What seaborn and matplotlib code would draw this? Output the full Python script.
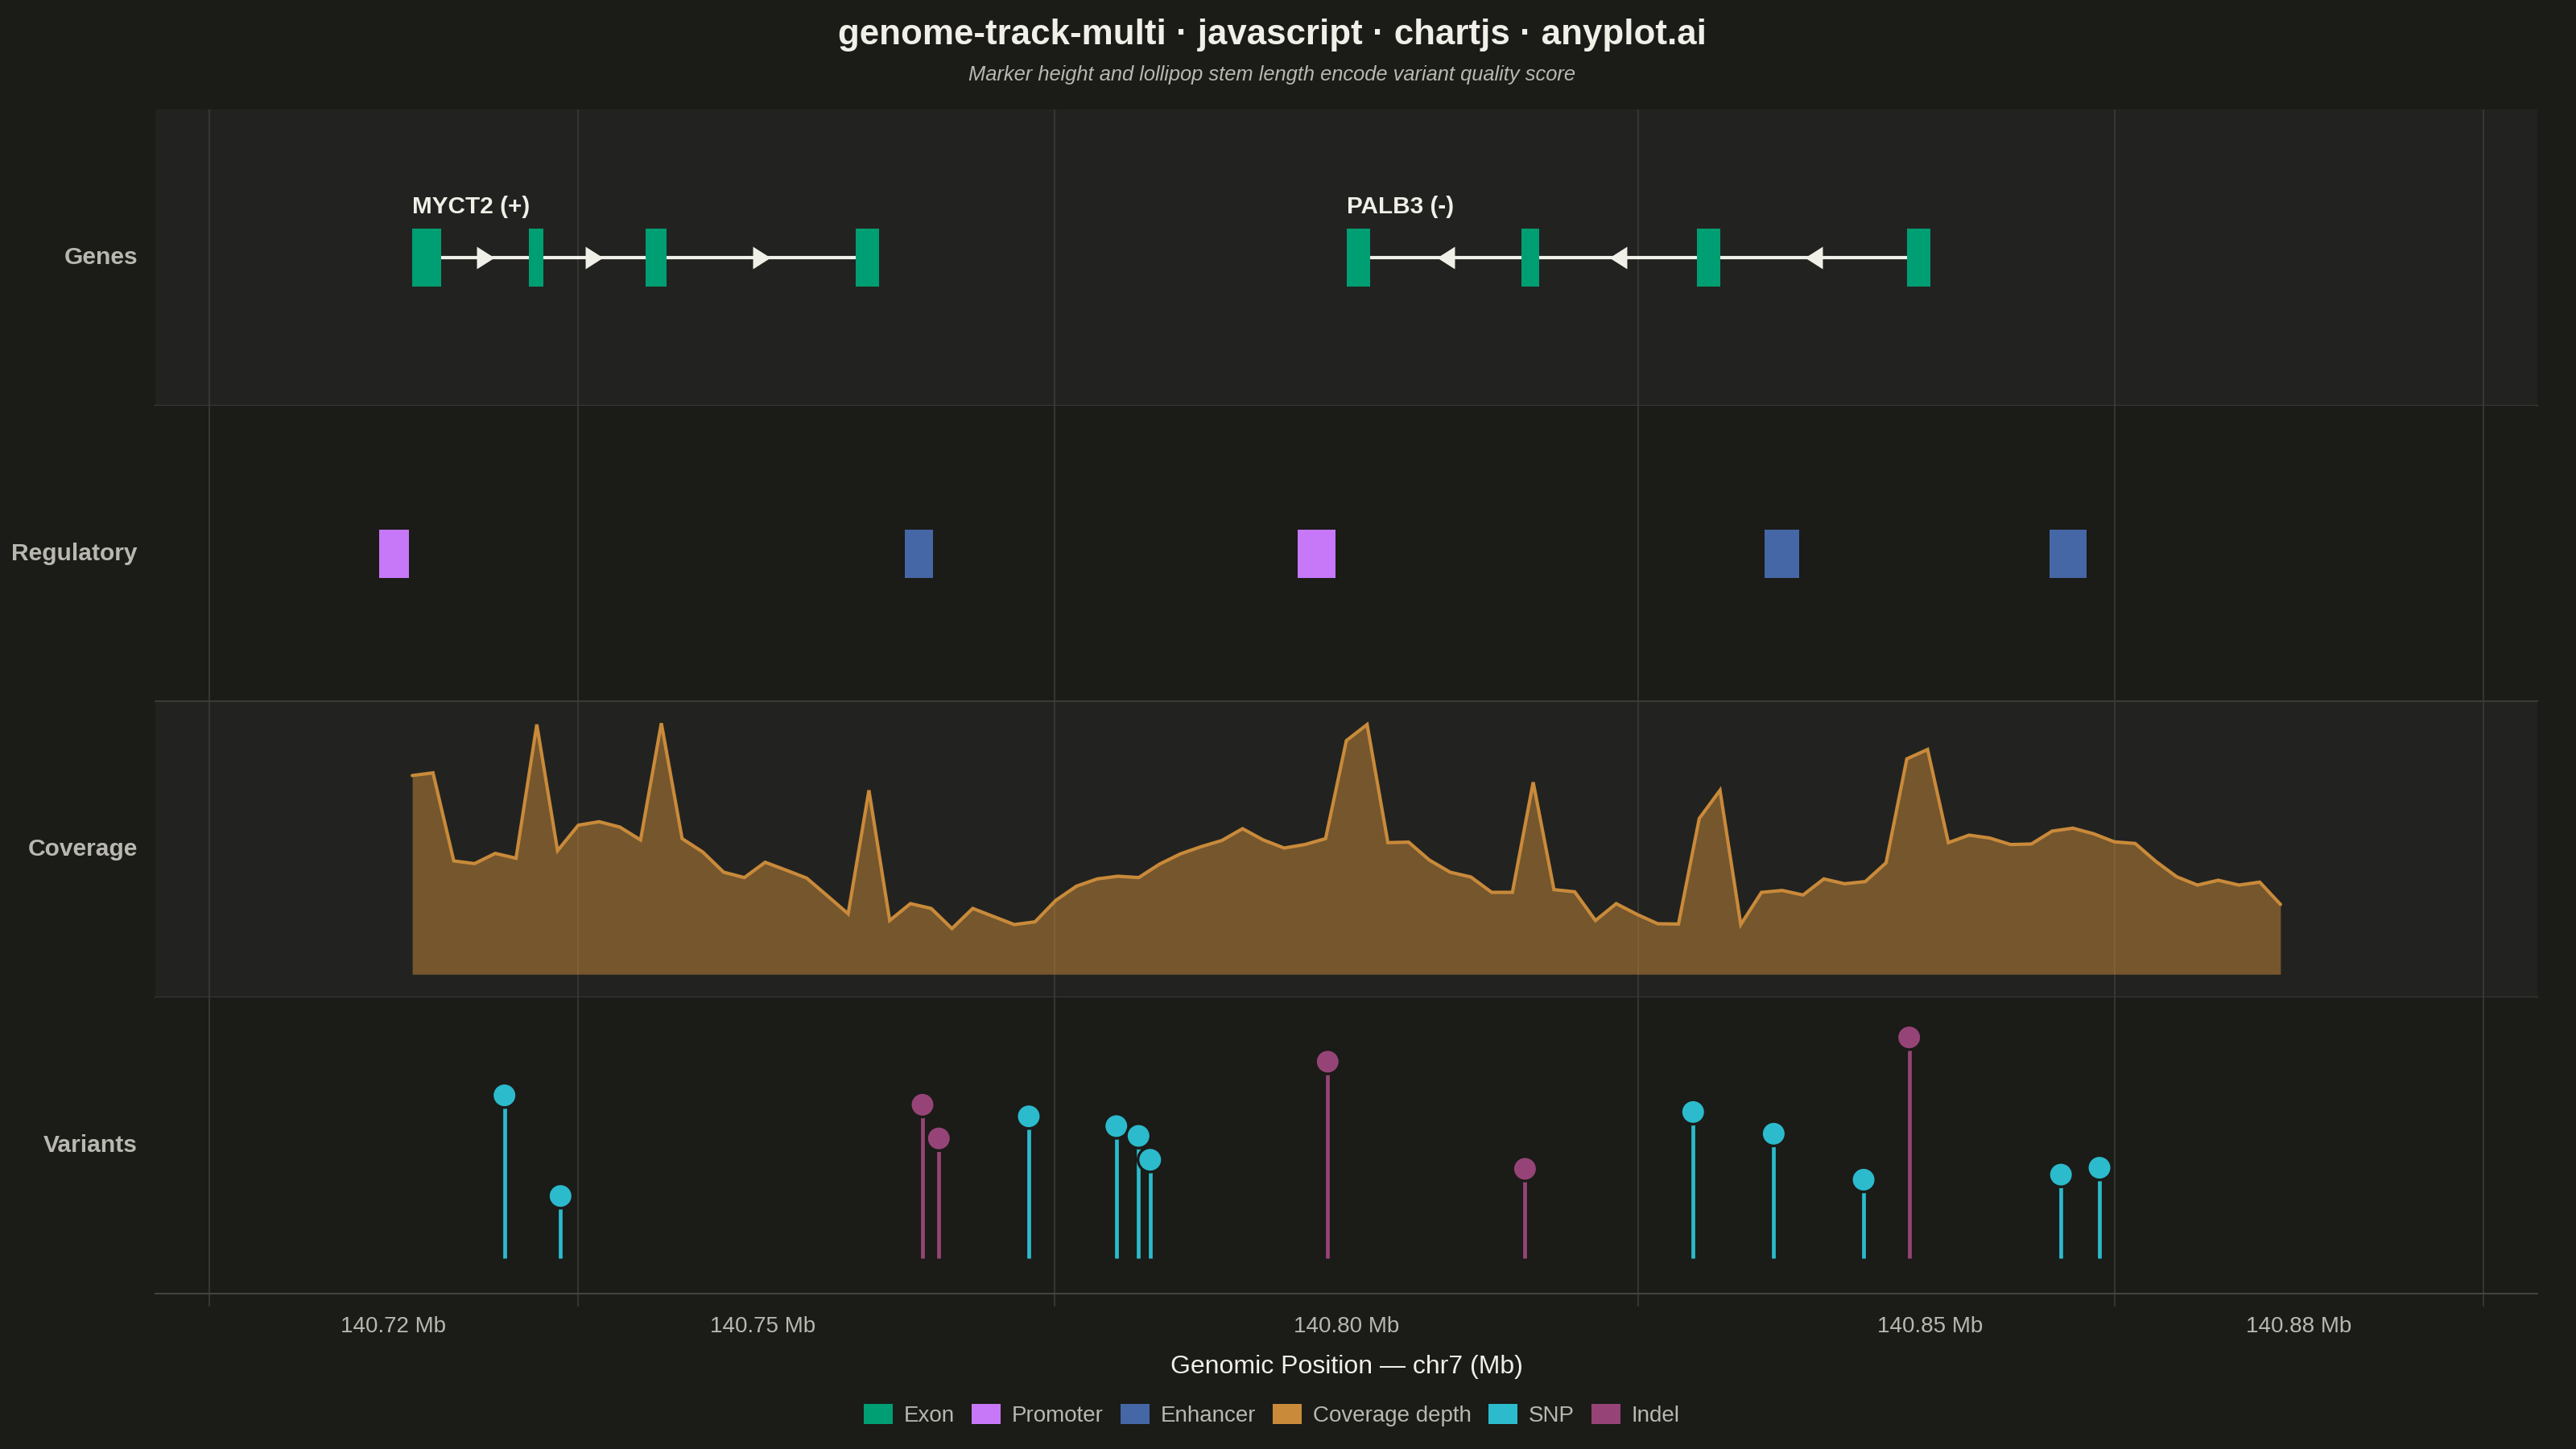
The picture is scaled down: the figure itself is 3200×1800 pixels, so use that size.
import numpy as np
import pandas as pd
import matplotlib
matplotlib.use("Agg")
import matplotlib.pyplot as plt
from matplotlib.patches import Patch
import seaborn as sns

# ---- data (positions in Mb on chr7) ----
GENE_NAMES = ["MYCT2", "PALB3"]
GENE_STRANDS = ["+", "-"]
GENE_EXON_STARTS = [
    [140.7200, 140.7300, 140.7400, 140.7580],
    [140.8000, 140.8150, 140.8300, 140.8480],
]
GENE_EXON_ENDS = [
    [140.7225, 140.7312, 140.7418, 140.7600],
    [140.8020, 140.8165, 140.8320, 140.8500],
]

REG_TYPES = ["Promoter", "Enhancer", "Promoter", "Enhancer", "Enhancer"]
REG_STARTS = [140.7172, 140.7622, 140.7958, 140.8358, 140.8602]
REG_ENDS = [140.7197, 140.7646, 140.7991, 140.8388, 140.8634]

COV_WINDOW = (140.72, 140.88)
COV_DEPTH = [
    74.0, 75.0, 42.2, 41.2, 45.0, 43.2, 93.0, 46.0, 55.5, 56.8,
    54.8, 50.0, 93.5, 50.5, 45.5, 38.0, 36.0, 41.7, 38.8, 35.8,
    29.2, 22.5, 68.5, 20.0, 26.3, 24.5, 17.0, 24.5, 21.5, 18.5,
    19.5, 27.5, 32.8, 35.5, 36.5, 36.0, 41.0, 44.8, 47.5, 49.8,
    54.2, 50.0, 47.0, 48.3, 50.5, 87.0, 93.0, 49.0, 49.2, 42.5,
    38.0, 36.2, 30.5, 30.5, 71.5, 31.5, 30.7, 20.0, 26.3, 22.3,
    18.8, 18.7, 58.0, 68.5, 18.5, 30.5, 31.2, 29.5, 35.5, 33.7,
    34.5, 41.5, 80.2, 83.7, 49.0, 51.8, 50.7, 48.3, 48.5, 53.3,
    54.4, 52.3, 49.3, 48.7, 42.0, 36.3, 33.2, 35.0, 33.2, 34.3,
    26.0,
]

VAR_POS = [140.7279, 140.7327, 140.7637, 140.7651, 140.7728, 140.7803,
           140.7822, 140.7832, 140.7984, 140.8153, 140.8297, 140.8366,
           140.8443, 140.8482, 140.8612, 140.8645]
VAR_TYPE = ["SNP", "SNP", "Indel", "Indel", "SNP", "SNP", "SNP", "SNP",
            "Indel", "Indel", "SNP", "SNP", "SNP", "Indel", "SNP", "SNP"]
VAR_QUAL = [45.0, 17.2, 42.4, 33.1, 39.2, 36.5, 33.8, 27.2,
            54.3, 24.7, 40.4, 34.4, 21.7, 61.0, 23.1, 25.0]

TICK_MB = [140.7184, 140.75, 140.80, 140.85, 140.8816]
TICK_LABELS = ["140.72 Mb", "140.75 Mb", "140.80 Mb", "140.85 Mb", "140.88 Mb"]
GRID_MB = [140.7026, 140.7342, 140.775, 140.825, 140.8658, 140.8974]
XLIM = (140.698, 140.902)
TRACKS = ["Genes", "Regulatory", "Coverage", "Variants"]

# ---- style ----
BG = "#1b1b18"
PANEL = "#222320"
GRID = "#3b3b37"
TEXT = "#f0efe8"
MUTED = "#b8b8b0"
COLORS = {
    "Exon": "#009e73",
    "Promoter": "#c678f8",
    "Enhancer": "#4567a5",
    "Coverage depth": "#c98a3a",
    "SNP": "#2bbbcc",
    "Indel": "#964477",
}

sns.set_theme(style="dark", rc={"figure.facecolor": BG, "axes.facecolor": BG})
plt.rcParams["font.family"] = ["Liberation Sans", "DejaVu Sans"]

W, H = 3200, 1800
fig = plt.figure(figsize=(16, 9), dpi=200)
fig.patch.set_facecolor(BG)

left_px, right_px, top_px = 193, 3152, 136
track_h = 367.75
axes = []
for i, name in enumerate(TRACKS):
    bottom = 1 - (top_px + track_h * (i + 1)) / H
    ax = fig.add_axes([left_px / W, bottom, (right_px - left_px) / W, track_h / H])
    ax.set_facecolor(PANEL if i % 2 == 0 else BG)
    ax.set_xlim(*XLIM)
    ax.set_yticks([])
    for side in ["top", "left", "right"]:
        ax.spines[side].set_visible(False)
    ax.spines["bottom"].set_color(GRID if i < 3 else "#46463f")
    ax.spines["bottom"].set_linewidth(0.7)
    for g in GRID_MB:
        ax.axvline(g, color=GRID, lw=0.6, zorder=0)
    ax.grid(False)
    fig.text(171 / W, bottom + track_h / H / 2, name, ha="right", va="center",
             fontsize=10.8, fontweight="bold", color=MUTED)
    axes.append(ax)

ax_gene, ax_reg, ax_cov, ax_var = axes

# genes: intron line, exon blocks, strand arrows at intron midpoints
arrow_r = [(-0.786, -1), (0.786, 0), (-0.786, 1)]
arrow_l = [(0.786, -1), (-0.786, 0), (0.786, 1)]
for name, strand, starts, ends in zip(GENE_NAMES, GENE_STRANDS, GENE_EXON_STARTS, GENE_EXON_ENDS):
    starts = np.array(starts)
    ends = np.array(ends)
    ax_gene.plot([starts.min(), ends.max()], [0.5, 0.5], color=TEXT, lw=1.5,
                 solid_capstyle="butt", zorder=2)
    ax_gene.bar(starts, 0.196, width=ends - starts, bottom=0.5 - 0.098, align="edge",
                color=COLORS["Exon"], lw=0, zorder=3)
    mids = (ends[:-1] + starts[1:]) / 2
    ax_gene.scatter(mids, np.full(len(mids), 0.5), marker=arrow_r if strand == "+" else arrow_l,
                    s=101, color=TEXT, linewidths=0, zorder=4)
    ax_gene.text(starts[0], 0.65, f"{name} ({strand})", fontsize=10.7, fontweight="bold",
                 color=TEXT, va="baseline", ha="left")
ax_gene.set_ylim(0, 1)

# regulatory
reg_starts = np.array(REG_STARTS)
reg_ends = np.array(REG_ENDS)
ax_reg.bar(reg_starts, 0.163, width=reg_ends - reg_starts, bottom=0.5 - 0.0816, align="edge",
           color=[COLORS[t] for t in REG_TYPES], lw=0, zorder=3)
ax_reg.set_ylim(0, 1)

# coverage
cov = pd.DataFrame({"pos": np.linspace(COV_WINDOW[0], COV_WINDOW[1], len(COV_DEPTH)),
                    "depth": COV_DEPTH})
ax_cov.fill_between(cov["pos"], 0, cov["depth"], color=COLORS["Coverage depth"],
                    alpha=0.5, lw=0, zorder=2)
sns.lineplot(data=cov, x="pos", y="depth", ax=ax_cov, color=COLORS["Coverage depth"],
             lw=1.5, zorder=3, solid_joinstyle="miter")
ax_cov.set_ylim(-8.7, 101.55)

# variants (lollipops)
var = pd.DataFrame({"pos": VAR_POS, "type": VAR_TYPE, "qual": VAR_QUAL})
ax_var.vlines(var["pos"], 0, var["qual"], colors=[COLORS[t] for t in var["type"]],
              lw=1.7, zorder=2)
sns.scatterplot(data=var, x="pos", y="qual", hue="type", ax=ax_var,
                palette={"SNP": COLORS["SNP"], "Indel": COLORS["Indel"]},
                s=119, edgecolor=BG, linewidth=1.2, legend=False, zorder=3)
ax_var.set_ylim(-9.78, 72.0)

for ax in axes:
    ax.set_xlabel("")
    ax.set_ylabel("")
    ax.set_xlim(*XLIM)
    if ax is not ax_var:
        ax.set_xticks([])

ax_var.set_xticks(TICK_MB, TICK_LABELS)
ax_var.set_xticks(GRID_MB, minor=True)
ax_var.tick_params(axis="x", which="major", length=0, pad=10.2, labelsize=10, labelcolor=MUTED)
ax_var.tick_params(axis="x", which="minor", length=5.8, width=0.6, color=GRID, bottom=True)

fig.text((left_px + right_px) / 2 / W, 1 - 1698 / H, "Genomic Position — chr7 (Mb)",
         ha="center", va="center", fontsize=11.5, color=TEXT)

fig.text(1580 / W, 1 - 55 / H, "genome-track-multi · javascript · chartjs · anyplot.ai",
         ha="center", va="baseline", fontsize=15.8, fontweight="bold", color=TEXT)
fig.text(1580 / W, 1 - 100 / H, "Marker height and lollipop stem length encode variant quality score",
         ha="center", va="baseline", fontsize=9.2, style="italic", color=MUTED)

handles = [Patch(facecolor=c, edgecolor="none", label=l) for l, c in COLORS.items()]
fig.legend(handles=handles, loc="center", bbox_to_anchor=(1580 / W, 1 - 1758 / H), ncol=6,
           frameon=False, fontsize=10, labelcolor=MUTED, handlelength=1.3, handleheight=1.0,
           handletextpad=0.5, columnspacing=0.75, borderaxespad=0)

fig.savefig("out.png", dpi=200, facecolor=BG)
